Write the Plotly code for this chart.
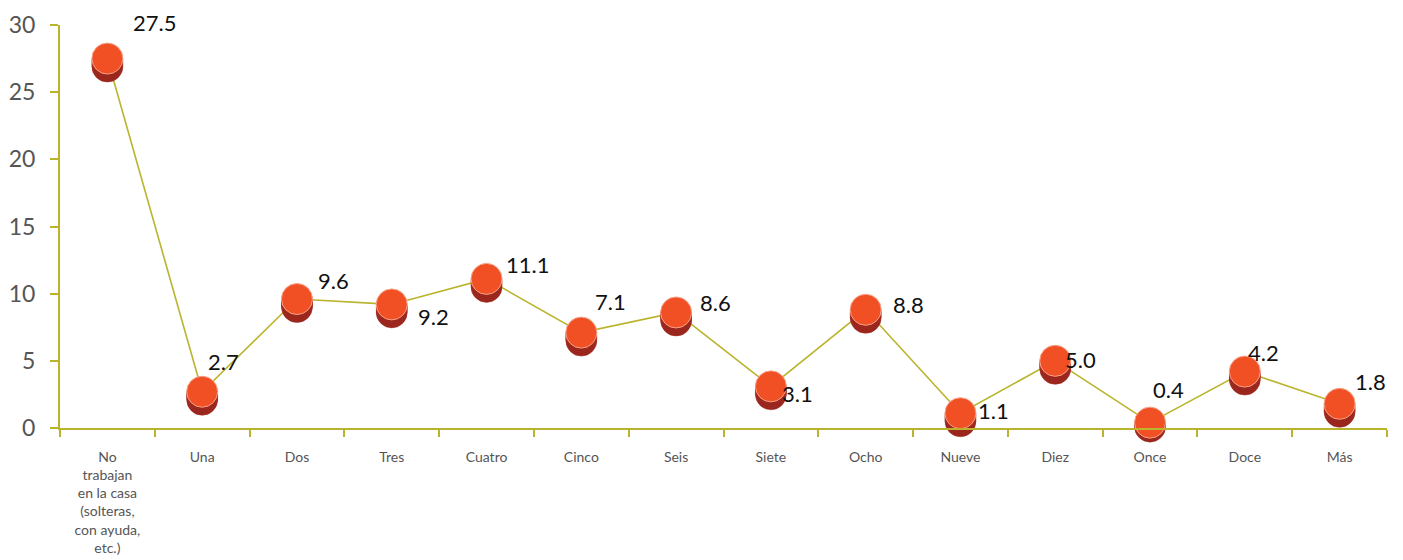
import plotly.graph_objects as go

categories = ["No<br>trabajan<br>en la casa<br>(solteras,<br>con ayuda,<br>etc.)",
              "Una", "Dos", "Tres", "Cuatro", "Cinco", "Seis", "Siete", "Ocho",
              "Nueve", "Diez", "Once", "Doce", "Más"]
values = [27.5, 2.7, 9.6, 9.2, 11.1, 7.1, 8.6, 3.1, 8.8, 1.1, 5.0, 0.4, 4.2, 1.8]
labels = ["27.5", "2.7", "9.6", "9.2", "11.1", "7.1", "8.6", "3.1", "8.8", "1.1", "5.0", "0.4", "4.2", "1.8"]
# label offsets in pixels (dx, dy; dy positive = up)
label_dx = [47, 21, 37, 42, 41, 29, 39, 27, 43, 33, 25, 18, 19, 31]
label_dy = [36, 30, 19, -12, 14, 31, 10, -7, 5, 3, 1, 33, 19, 22]

OLIVE = "#BAB42C"
fig = go.Figure()

# connecting line
fig.add_trace(go.Scatter(x=categories, y=values, mode="lines",
                         line=dict(color=OLIVE, width=1.6), hoverinfo="skip",
                         cliponaxis=False))

# cylinder shadow (3D effect)
px_per_unit = (428 - 25) / 30.0
for off in [8, 6, 4, 2]:
    fig.add_trace(go.Scatter(x=categories, y=[v - off / px_per_unit for v in values],
                             mode="markers", hoverinfo="skip", cliponaxis=False,
                             marker=dict(size=31, color="#96231A",
                                         line=dict(color="#A8342A", width=0.5))))

# top face
fig.add_trace(go.Scatter(x=categories, y=values, mode="markers", cliponaxis=False,
                         marker=dict(size=31, color="#F15025",
                                     line=dict(color="#F8A387", width=1))))

for c, v, t, dx, dy in zip(categories, values, labels, label_dx, label_dy):
    fig.add_annotation(x=c, y=v, text=t, showarrow=False, xshift=dx, yshift=dy,
                       font=dict(family="Lato, sans-serif", size=22, color="#111111"))

# page body has an 8px margin, so the figure is sized to fit the window
fig.update_layout(
    width=1395, height=552,
    margin=dict(l=52, r=16, t=17, b=132),
    plot_bgcolor="white", paper_bgcolor="white",
    showlegend=False,
    font=dict(family="Lato, sans-serif"),
)
fig.update_xaxes(type="category", range=[-0.5, 13.5], automargin=False,
                 showgrid=False, showline=True, linecolor=OLIVE, linewidth=2,
                 ticks="outside", tickson="boundaries", ticklen=7, tickcolor=OLIVE, tickwidth=1.5,
                 tickfont=dict(size=14, color="#555555"), tickangle=0,
                 ticklabelstandoff=15, ticklabeloverflow="allow")
fig.update_yaxes(range=[0, 30], dtick=5, automargin=False, showgrid=False, zeroline=False,
                 showline=True, linecolor=OLIVE, linewidth=2, ticks="outside", ticklen=8,
                 tickcolor=OLIVE, tickwidth=1.5, tickfont=dict(size=23, color="#555555"),
                 ticklabelstandoff=10, ticklabeloverflow="allow")

fig.write_html("out.html")
